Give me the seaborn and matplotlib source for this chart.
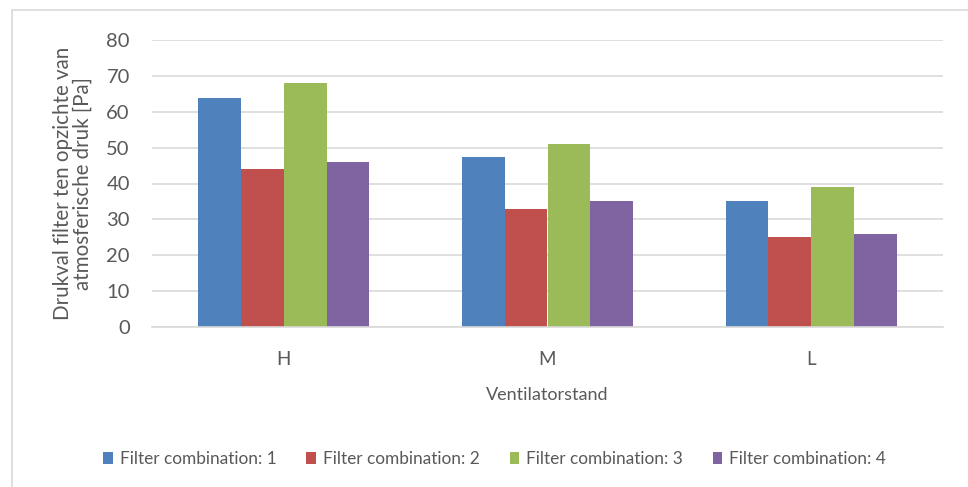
import matplotlib
matplotlib.use("Agg")
import matplotlib.pyplot as plt
from matplotlib.patches import Rectangle, Patch
import seaborn as sns
import pandas as pd

categories = ["H", "M", "L"]
series_names = ["Filter combination: 1", "Filter combination: 2",
                "Filter combination: 3", "Filter combination: 4"]
fc1 = [63.7, 47.4, 35.0]
fc2 = [44.0, 33.0, 25.0]
fc3 = [68.0, 51.0, 39.0]
fc4 = [46.0, 35.0, 26.0]
yticks = [0, 10, 20, 30, 40, 50, 60, 70, 80]
colors = ["#4f81bd", "#c0504d", "#9bbb59", "#8064a2"]

rows = []
for name, vals in zip(series_names, [fc1, fc2, fc3, fc4]):
    for c, v in zip(categories, vals):
        rows.append({"cat": c, "series": name, "val": v})
df = pd.DataFrame(rows)

sns.set_theme(style="white")
plt.rcParams["font.family"] = ["Lato", "DejaVu Sans"]
txt = "#595959"

fig = plt.figure(figsize=(9.68, 4.87), dpi=100)
ax = fig.add_axes([152/968, 1-327.3/487, (943-152)/968, (327.3-39.7)/487])

sns.barplot(data=df, x="cat", y="val", hue="series", order=categories,
            hue_order=series_names, palette=colors, width=0.648,
            saturation=1, ax=ax, legend=False, edgecolor="none")

ax.set_xlim(-0.5, 2.5)
ax.set_ylim(0, 80)
ax.set_yticks(yticks)
ax.set_yticklabels([str(t) for t in yticks], fontsize=14.5, color=txt)
ax.tick_params(axis="y", length=0, pad=16)
ax.tick_params(axis="x", length=0, pad=17, labelsize=13.5, labelcolor=txt)
ax.yaxis.grid(True, color="#d9d9d9", linewidth=1.2)
ax.set_axisbelow(True)
for s in ["top", "right", "left"]:
    ax.spines[s].set_visible(False)
ax.spines["bottom"].set_color("#d9d9d9")
ax.spines["bottom"].set_linewidth(1.2)

ax.set_xlabel("Ventilatorstand", fontsize=13, color=txt, labelpad=14)
ax.set_ylabel("Drukval filter ten opzichte van\natmosferische druk [Pa]",
              fontsize=14.8, color=txt, labelpad=10, linespacing=0.95)

handles = [Patch(facecolor=c, edgecolor="none") for c in colors]
fig.legend(handles, series_names, loc="center", bbox_to_anchor=(0.511, 1-459/487),
           ncol=4, frameon=False, fontsize=12.4, labelcolor=txt,
           handlelength=0.55, handleheight=0.75, handletextpad=0.4,
           columnspacing=1.75)

fig.patches.append(Rectangle((12/968, -0.1), 1.2, 1-10/487+0.1,
                             transform=fig.transFigure, fill=False,
                             edgecolor="#d9d9d9", linewidth=1.2))

fig.savefig("out.png", dpi=100)
